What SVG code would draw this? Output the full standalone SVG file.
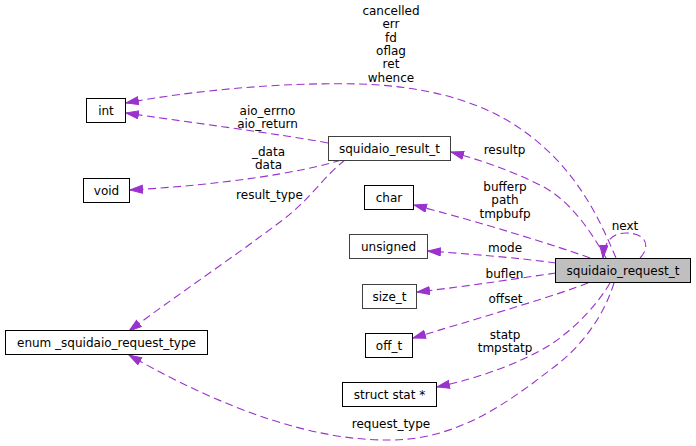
<svg xmlns="http://www.w3.org/2000/svg" width="696" height="446" viewBox="0 0 696 446">
<defs>
<marker id="ah" markerUnits="userSpaceOnUse" markerWidth="14" markerHeight="10" refX="13" refY="4.5" orient="auto">
<path d="M0.5,0.5 L13,4.5 L0.5,8.5 z" fill="#9a32cd" stroke="#9a32cd" stroke-width="1"/>
</marker>
</defs>
<style>
text{font-family:"DejaVu Sans","Liberation Sans",sans-serif;font-size:12px;fill:#000;text-anchor:middle}
.n rect{fill:#fff;stroke:#000;stroke-width:1}
.n.g rect{stroke:#404040}
.n.cur rect{fill:#bfbfbf;stroke:#000}
.e path{fill:none;stroke:#9a32cd;stroke-width:1.1;stroke-dasharray:8,4.5;marker-end:url(#ah)}
</style>
<g id="connectors" class="e">
<path d="M616,258 C597,213 572,160 510,122 C470,98 420,86 360,84 C280,82 190,91 126,103"/>
<path d="M328,143 C280,134 180,121 126,113"/>
<path d="M341,160 C300,173 220,185 130,190"/>
<path d="M345,160 C322,178 310,200 280,222 C235,256 170,300 129,331"/>
<path d="M606,258 C590,230 570,200 540,185 C510,170 480,160 451,152"/>
<path d="M640,258 C650,248 648,233 626,233 C612,233 604,242 603,258"/>
<path d="M590,258 C560,247 480,222 414,205"/>
<path d="M556,263 C520,258 470,254 428,251"/>
<path d="M556,273 C520,278 470,286 417,292"/>
<path d="M588,283 C560,294 500,312 413,338"/>
<path d="M610,283 C600,300 580,325 550,345 C520,363 480,378 437,387"/>
<path d="M614,283 C605,312 585,345 550,370 C505,405 455,440 390,440 C315,441 225,410 129,355"/>
</g>
<g id="edge-labels">
<text x="391" y="15">cancelled<tspan x="391" dy="13.3">err</tspan><tspan x="391" dy="13.3">fd</tspan><tspan x="391" dy="13.3">oflag</tspan><tspan x="391" dy="13.3">ret</tspan><tspan x="391" dy="13.3">whence</tspan></text>
<text x="267.5" y="115">aio_errno<tspan x="267.5" dy="13">aio_return</tspan></text>
<text x="268.5" y="155.5">_data<tspan x="268.5" dy="13.3">data</tspan></text>
<text x="269.5" y="199">result_type</text>
<text x="504.5" y="154">resultp</text>
<text x="505" y="191">bufferp<tspan x="505" dy="13.3">path</tspan><tspan x="505" dy="13.3">tmpbufp</tspan></text>
<text x="625" y="230">next</text>
<text x="505" y="252">mode</text>
<text x="504.5" y="277.5">buflen</text>
<text x="505.5" y="302.5">offset</text>
<text x="505" y="338.5">statp<tspan x="505" dy="13.3">tmpstatp</tspan></text>
<text x="391" y="428">request_type</text>
</g>
<g id="node-int" class="n"><rect x="86.5" y="98.5" width="39" height="24"/><text x="106" y="115">int</text></g>
<g id="node-squidaio_result_t" class="n g"><rect x="328.5" y="136.5" width="122" height="24"/><text x="389.5" y="153">squidaio_result_t</text></g>
<g id="node-void" class="n"><rect x="83.5" y="178.5" width="46" height="24"/><text x="106.5" y="195">void</text></g>
<g id="node-char" class="n"><rect x="364.5" y="185.5" width="49" height="24"/><text x="389" y="202">char</text></g>
<g id="node-unsigned" class="n g"><rect x="349.5" y="234.5" width="78" height="24"/><text x="388.5" y="251">unsigned</text></g>
<g id="node-squidaio_request_t" class="n cur"><rect x="555.5" y="258.5" width="135" height="24"/><text x="623" y="275">squidaio_request_t</text></g>
<g id="node-size_t" class="n g"><rect x="362.5" y="284.5" width="54" height="24"/><text x="389.5" y="301">size_t</text></g>
<g id="node-off_t" class="n"><rect x="365.5" y="333.5" width="47" height="24"/><text x="389" y="350">off_t</text></g>
<g id="node-struct_stat" class="n"><rect x="342.5" y="382.5" width="94" height="24"/><text x="389.5" y="399">struct stat *</text></g>
<g id="node-enum_squidaio_request_type" class="n"><rect x="5.5" y="330.5" width="202" height="24"/><text x="106.5" y="347">enum _squidaio_request_type</text></g>
</svg>
